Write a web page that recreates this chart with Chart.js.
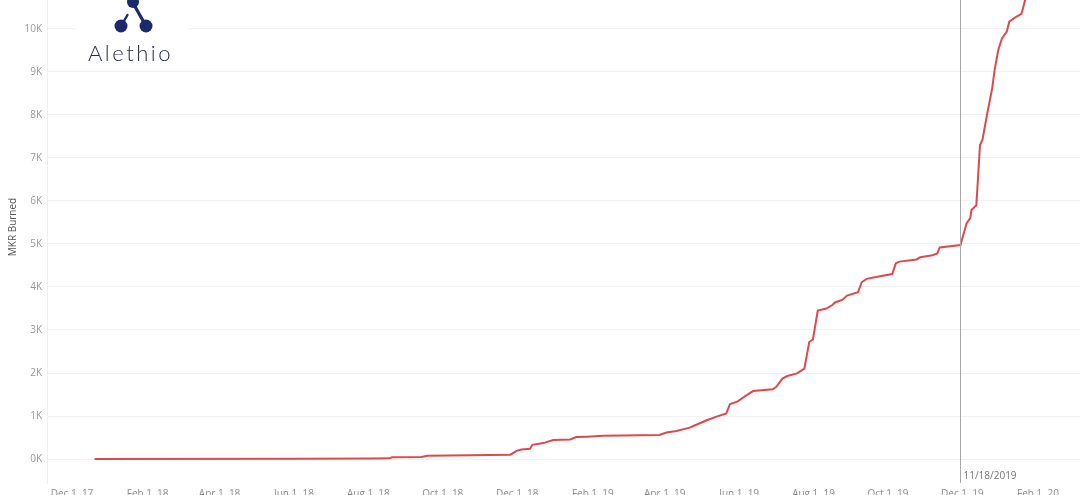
<!DOCTYPE html>
<html lang="en">
<head>
    <meta charset="UTF-8">
    <title>MKR Burned</title>
    <script src="https://cdn.jsdelivr.net/npm/chart.js@4.4.1/dist/chart.umd.min.js"></script>
    <style>
        body { margin: 0; background: #fff; }
        #wrap { width: 1080px; height: 495px; position: relative; overflow: hidden; }
    </style>
</head>
<body>
    <div id="wrap">
        <canvas id="burnChart" width="1080" height="495"></canvas>
    </div>

    <script>
        // cumulative MKR burned
        const dates = [
            '2017-12-08', '2018-05-25', '2018-07-22', '2018-08-07', '2018-08-09',
            '2018-09-02', '2018-09-07', '2018-11-14', '2018-11-19', '2018-11-23',
            '2018-11-30', '2018-12-02', '2018-12-11', '2018-12-19', '2019-01-02',
            '2019-01-07', '2019-01-16', '2019-01-29', '2019-03-16', '2019-03-22',
            '2019-03-30', '2019-04-10', '2019-04-13', '2019-04-24', '2019-05-02',
            '2019-05-10', '2019-05-13', '2019-05-19', '2019-05-27', '2019-06-01',
            '2019-06-17', '2019-06-20', '2019-06-25', '2019-06-29', '2019-07-07',
            '2019-07-13', '2019-07-17', '2019-07-20', '2019-07-24', '2019-07-31',
            '2019-08-05', '2019-08-07', '2019-08-13', '2019-08-17', '2019-08-26',
            '2019-08-29', '2019-09-02', '2019-09-13', '2019-09-23', '2019-09-26',
            '2019-09-29', '2019-10-13', '2019-10-16', '2019-10-26', '2019-10-30',
            '2019-11-01', '2019-11-18', '2019-11-23', '2019-11-26', '2019-11-27',
            '2019-12-01', '2019-12-04', '2019-12-06', '2019-12-10', '2019-12-14',
            '2019-12-16', '2019-12-19', '2019-12-22', '2019-12-26', '2019-12-28',
            '2020-01-03', '2020-01-07', '2020-01-10', '2020-01-14'
        ];
        const burned = [
            0, 5, 10, 16, 40,
            45, 77, 100, 190, 220,
            240, 330, 370, 440, 455,
            510, 520, 540, 560, 615,
            650, 730, 767, 900, 985,
            1060, 1280, 1333, 1490, 1580,
            1620, 1680, 1870, 1930, 1990,
            2100, 2720, 2780, 3450, 3500,
            3580, 3640, 3700, 3800, 3880,
            4110, 4190, 4250, 4300, 4550,
            4590, 4640, 4690, 4740, 4780,
            4920, 4975, 5480, 5600, 5790,
            5900, 7300, 7420, 8040, 8620,
            9050, 9510, 9780, 9940, 10170,
            10290, 10350, 10670, 11200
        ];

        const xTickDates = ['2017-12-01', '2018-02-01', '2018-04-01', '2018-06-01', '2018-08-01',
            '2018-10-01', '2018-12-01', '2019-02-01', '2019-04-01', '2019-06-01', '2019-08-01',
            '2019-10-01', '2019-12-01', '2020-02-01'];
        const yTicks = [0, 1000, 2000, 3000, 4000, 5000, 6000, 7000, 8000, 9000, 10000];

        const markerDate = '2019-11-18';
        const markerLabel = '11/18/2019';

        const monthNames = ['Jan', 'Feb', 'Mar', 'Apr', 'May', 'Jun', 'Jul', 'Aug', 'Sep', 'Oct', 'Nov', 'Dec'];

        // days since Dec 1, 2017 (no date adapter available)
        function dayNum(s) {
            const [y, m, d] = s.split('-').map(Number);
            return (Date.UTC(y, m - 1, d) - Date.UTC(2017, 11, 1)) / 86400000;
        }
        function dayLabel(n) {
            const dt = new Date(Date.UTC(2017, 11, 1) + n * 86400000);
            return monthNames[dt.getUTCMonth()] + ' ' + dt.getUTCDate() + ', ' + String(dt.getUTCFullYear()).slice(2);
        }

        const points = dates.map((d, i) => ({ x: dayNum(d), y: burned[i] }));

        const markerPlugin = {
            id: 'marker',
            afterDatasetsDraw(chart) {
                const { ctx, chartArea, scales } = chart;
                const x = Math.round(scales.x.getPixelForValue(dayNum(markerDate))) + 0.5;
                ctx.save();
                ctx.strokeStyle = '#a8a8a8';
                ctx.lineWidth = 1;
                ctx.beginPath();
                ctx.moveTo(x, 0);
                ctx.lineTo(x, chartArea.bottom);
                ctx.stroke();
                ctx.fillStyle = '#777';
                ctx.font = '10px "Open Sans", sans-serif';
                ctx.textBaseline = 'alphabetic';
                ctx.fillText(markerLabel, x + 3, 479);
                ctx.restore();
            }
        };

        const decorPlugin = {
            id: 'decor',
            beforeDatasetsDraw(chart) {
                const ctx = chart.ctx;
                ctx.save();
                // logo box
                ctx.fillStyle = '#fff';
                ctx.fillRect(76, 0, 112, 67);
                const navy = '#1b2a6b';
                ctx.fillStyle = navy;
                ctx.strokeStyle = navy;
                ctx.lineCap = 'round';
                ctx.lineWidth = 3.2;
                ctx.beginPath();
                ctx.moveTo(133, 3);
                ctx.lineTo(146, 26);
                ctx.stroke();
                ctx.lineWidth = 2.4;
                ctx.beginPath();
                ctx.moveTo(121, 26);
                ctx.lineTo(127.5, 15);
                ctx.stroke();
                [[133, 2, 6], [121, 26, 6.5], [146, 26, 6.5]].forEach(([cx, cy, r]) => {
                    ctx.beginPath();
                    ctx.arc(cx, cy, r, 0, Math.PI * 2);
                    ctx.fill();
                });
                ctx.fillStyle = '#2a2e48';
                ctx.font = '300 22px Lato, "Open Sans", sans-serif';
                ctx.letterSpacing = '2.5px';
                ctx.textBaseline = 'alphabetic';
                ctx.fillText('Alethio', 88, 61);
                ctx.letterSpacing = '0px';

                // y axis title
                ctx.translate(13, 227);
                ctx.rotate(-Math.PI / 2);
                ctx.fillStyle = '#555';
                ctx.font = '10px "Open Sans", sans-serif';
                ctx.textAlign = 'center';
                ctx.textBaseline = 'middle';
                ctx.fillText('MKR Burned', 0, 0);
                ctx.restore();
            }
        };

        const ctx = document.getElementById('burnChart').getContext('2d');
        const chart = new Chart(ctx, {
            type: 'line',
            data: {
                datasets: [{
                    label: 'MKR Burned',
                    data: points,
                    borderColor: '#dc4a50',
                    borderWidth: 2,
                    pointRadius: 0,
                    tension: 0,
                    fill: false
                }]
            },
            options: {
                responsive: false,
                animation: false,
                devicePixelRatio: 1,
                layout: { padding: 0 },
                plugins: {
                    legend: { display: false },
                    tooltip: { enabled: false }
                },
                scales: {
                    x: {
                        type: 'linear',
                        min: -32,
                        max: 815,
                        grid: { display: false, drawTicks: false },
                        border: { display: false },
                        afterBuildTicks: (scale) => {
                            scale.ticks = xTickDates.map(d => ({ value: dayNum(d) }));
                        },
                        afterFit: (scale) => {
                            scale.height = 12;
                            scale.paddingLeft = 0;
                            scale.paddingRight = 0;
                        },
                        ticks: {
                            autoSkip: false,
                            maxRotation: 0,
                            padding: 5,
                            labelOffset: -14,
                            color: '#8a8a8a',
                            font: { family: '"Open Sans", sans-serif', size: 10 },
                            callback: (v) => dayLabel(v)
                        }
                    },
                    y: {
                        min: -558,
                        max: 10674,
                        afterBuildTicks: (scale) => {
                            scale.ticks = yTicks.map(v => ({ value: v }));
                        },
                        afterFit: (scale) => {
                            scale.width = 47;
                            scale.paddingTop = 0;
                            scale.paddingBottom = 0;
                        },
                        grid: { color: '#f1f1f1', drawTicks: false },
                        border: { display: true, color: '#efefef' },
                        ticks: {
                            padding: 5,
                            color: '#999',
                            font: { family: '"Open Sans", sans-serif', size: 10 },
                            callback: (v) => (v / 1000) + 'K'
                        }
                    }
                }
            },
            plugins: [decorPlugin, markerPlugin]
        });
    </script>
</body>
</html>
